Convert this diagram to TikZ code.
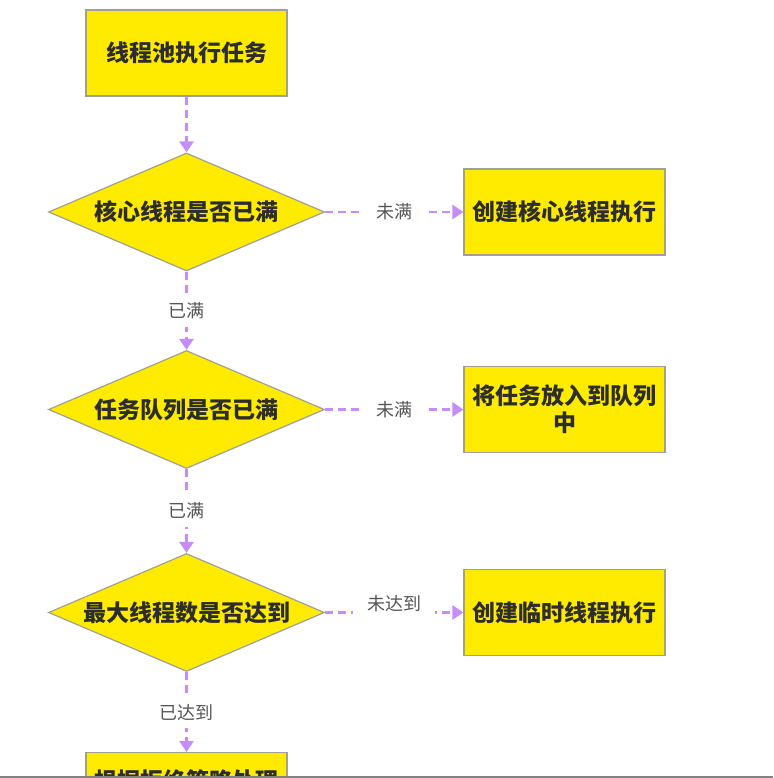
\documentclass[tikz,border=0pt]{standalone}
\usepackage{fontspec}
\setmainfont{Noto Sans CJK SC}
\usetikzlibrary{shapes.geometric,arrows.meta}
\definecolor{boxyellow}{RGB}{255,235,0}
\definecolor{boxborder}{RGB}{160,160,150}
\definecolor{flowpurple}{RGB}{198,140,250}
\definecolor{boxtext}{RGB}{45,45,45}
\definecolor{lbltext}{RGB}{85,85,85}
\definecolor{barcolor}{RGB}{130,130,130}
\tikzset{
  stepbox/.style={draw=boxborder, line width=1.2pt, fill=boxyellow, rectangle,
    minimum width=201pt, minimum height=86pt, inner sep=4pt, align=center,
    font=\fontsize{23}{27}\selectfont\bfseries, text=boxtext},
  decision/.style={draw=boxborder, line width=1.2pt, fill=boxyellow, diamond, aspect=2.34,
    minimum width=276pt, minimum height=118pt, inner sep=0pt,
    font=\fontsize{23}{27}\selectfont\bfseries, text=boxtext},
  flow/.style={draw=flowpurple, line width=2.5pt, dash pattern=on 8pt off 5pt,
    -{Triangle[width=14pt,length=11pt,fill=flowpurple]}},
  lbl/.style={fill=white, text=lbltext, font=\fontsize{18}{22}\selectfont, inner xsep=14pt, inner ysep=8pt}
}
\begin{document}
\begin{tikzpicture}[x=1pt,y=-1pt]
\useasboundingbox (0,0) rectangle (773,778);
\fill[white] (0,0) rectangle (773,778);
\node[stepbox] (start) at (186.5,53) {线程池执行任务};
\node[decision] (d1) at (186.5,212) {核心线程是否已满};
\node[decision] (d2) at (186.5,409.5) {任务队列是否已满};
\node[decision] (d3) at (186.5,612.5) {最大线程数是否达到};
\node[stepbox] (r1) at (564.5,212) {创建核心线程执行};
\node[stepbox] (r2) at (564.5,409.5) {将任务放入到队列\\中};
\node[stepbox] (r3) at (564.5,612.5) {创建临时线程执行};
\begin{scope}
\clip (0,0) rectangle (773,776);
\node[stepbox, minimum height=60pt, anchor=north] (last) at (186.5,752) {};
\node[font=\fontsize{23}{27}\selectfont\bfseries, text=boxtext] (lasttext) at (186.5,781) {根据拒绝策略处理};
\end{scope}
\fill[barcolor] (0,776) rectangle (773,778);
\draw[flow] (start.south) -- (d1.north);
\draw[flow] (d1.south) -- node[lbl]{已满} (d2.north);
\draw[flow] (d2.south) -- node[lbl]{已满} (d3.north);
\draw[flow] (d3.south) -- node[lbl]{已达到} (last.north);
\draw[flow] (d1.east) -- node[lbl]{未满} (r1.west);
\draw[flow] (d2.east) -- node[lbl]{未满} (r2.west);
\draw[flow] (d3.east) -- node[lbl, yshift=9pt]{未达到} (r3.west);
\end{tikzpicture}
\end{document}
